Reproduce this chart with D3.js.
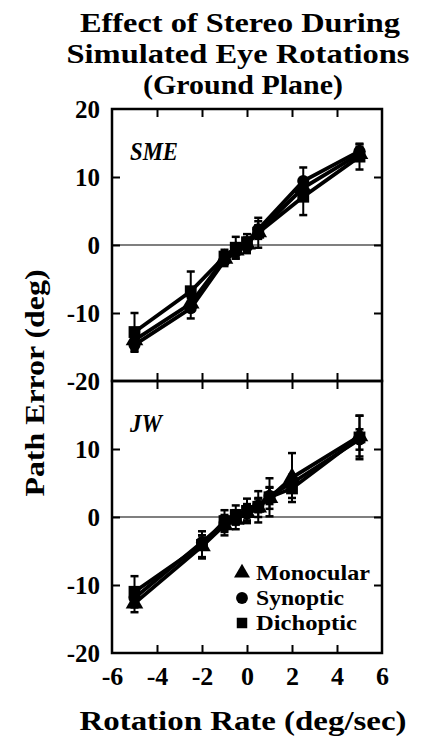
<!DOCTYPE html>
<html>
<head>
<meta charset="utf-8">
<script src="https://d3js.org/d3.v7.min.js"></script>
<style>
  body { margin: 0; background: #fff; }
  text { font-family: "Liberation Serif", "Times New Roman", serif; font-weight: bold; fill: #000; }
</style>
</head>
<body>
<svg id="chart" width="425" height="742"></svg>
<script>
// ---- data ----
var seriesNames = ["Monocular", "Synoptic", "Dichoptic"];
var seriesShapes = ["triangle", "circle", "square"];

// subject SME (top panel)
var smeRates = [-5, -2.5, -1, -0.5, 0, 0.5, 2.5, 5];
var smeMono  = [-14.0, -8.6, -2.0, -0.8, 0.1, 1.9, 8.4, 13.4];
var smeSyn   = [-14.7, -9.3, -2.3, -1.0, -0.2, 2.3, 9.4, 13.8];
var smeDich  = [-12.8, -6.8, -1.7, -0.4, 0.4, 1.8, 7.1, 13.0];
var smeMonoErr = [1.2, 1.0, 0.8, 0.9, 1.0, 1.0, 1.3, 1.0];
var smeSynErr  = [1.0, 1.5, 0.8, 1.0, 1.0, 1.2, 2.0, 1.0];
var smeDichErr = [2.8, 2.9, 1.0, 1.6, 1.2, 2.2, 2.7, 1.9];

// subject JW (bottom panel)
var jwRates = [-5, -2, -1, -0.5, 0, 0.5, 1, 2, 5];
var jwMono  = [-12.7, -4.3, -1.2, -0.4, 0.6, 1.4, 2.8, 5.8, 11.9];
var jwSyn   = [-11.9, -3.7, -0.9, -0.1, 0.5, 1.7, 3.1, 5.0, 11.4];
var jwDich  = [-11.0, -4.1, -0.6, 0.3, 0.9, 1.5, 2.9, 4.2, 11.7];
var jwMonoErr = [1.3, 1.6, 1.5, 1.4, 1.3, 1.4, 1.6, 3.6, 3.0];
var jwSynErr  = [1.0, 1.0, 1.0, 1.0, 1.0, 1.0, 1.2, 1.2, 1.5];
var jwDichErr = [2.3, 2.0, 1.6, 1.4, 1.8, 2.3, 2.8, 1.4, 3.2];

var xTickLabels = [-6, -4, -2, 0, 2, 4, 6];
var xInnerTicks = [-4, -2, 0, 2, 4];
var yInnerTicks = [-10, 0, 10];
var yLabelsTop = [20, 10, 0, -10, -20];
var yLabelsBottom = [10, 0, -10, -20];

// ---- layout ----
var svg = d3.select("#chart");
var left = 112, right = 382;
var x = d3.scaleLinear().domain([-6, 6]).range([left, right]);
var yTop = d3.scaleLinear().domain([-20, 20]).range([381, 109]);
var yBottom = d3.scaleLinear().domain([-20, 20]).range([653, 381]);

function makeSeries(rates, vals, errs) {
  var out = [];
  for (var i = 0; i < vals.length; i++) {
    out.push({ vals: vals[i].map(function(v, j) { return { x: rates[j], y: v, e: errs[i][j] }; }) });
  }
  return out;
}

var symbolType = { triangle: d3.symbolTriangle, circle: d3.symbolCircle, square: d3.symbolSquare };
var symbolSize = { triangle: 135, circle: 115, square: 140 };

function drawPanel(y, series, name, nameWidth, yLabels) {
  var g = svg.append("g");

  // zero line
  g.append("line")
    .attr("x1", left).attr("x2", right)
    .attr("y1", y(0)).attr("y2", y(0))
    .attr("stroke", "#000").attr("stroke-width", 1.2);

  // inward ticks on all four sides
  g.append("g").attr("transform", "translate(0," + y.range()[0] + ")")
    .call(d3.axisBottom(x).tickValues(xInnerTicks).tickSize(-8).tickFormat(""))
    .call(function(a) { a.select(".domain").remove(); });
  g.append("g").attr("transform", "translate(0," + y.range()[1] + ")")
    .call(d3.axisTop(x).tickValues(xInnerTicks).tickSize(-8).tickFormat(""))
    .call(function(a) { a.select(".domain").remove(); });
  g.append("g").attr("transform", "translate(" + left + ",0)")
    .call(d3.axisLeft(y).tickValues(yInnerTicks).tickSize(-8).tickFormat(""))
    .call(function(a) { a.select(".domain").remove(); });
  g.append("g").attr("transform", "translate(" + right + ",0)")
    .call(d3.axisRight(y).tickValues(yInnerTicks).tickSize(-8).tickFormat(""))
    .call(function(a) { a.select(".domain").remove(); });
  g.selectAll(".tick line").attr("stroke", "#000").attr("stroke-width", 2);

  // y tick labels
  var yl = g.append("g").attr("transform", "translate(" + left + ",0)")
    .call(d3.axisLeft(y).tickValues(yLabels).tickSize(0).tickPadding(12)
      .tickFormat(function(d) { return String(d); }));
  yl.select(".domain").remove();
  yl.selectAll("text").style("font-size", "25px").attr("dy", "0.34em");

  // box
  g.append("rect")
    .attr("x", left).attr("y", y.range()[1])
    .attr("width", right - left).attr("height", y.range()[0] - y.range()[1])
    .attr("fill", "none").attr("stroke", "#000").attr("stroke-width", 2.5);

  var line = d3.line()
    .x(function(d) { return x(d.x); })
    .y(function(d) { return y(d.y); });

  // lines
  g.selectAll(".sline").data(series).enter().append("path")
    .attr("d", function(d) { return line(d.vals); })
    .attr("fill", "none").attr("stroke", "#000").attr("stroke-width", 3.8);

  // error bars
  series.forEach(function(s) {
    var eb = g.append("g").selectAll("g").data(s.vals).enter().append("g");
    eb.append("line")
      .attr("x1", function(d) { return x(d.x); }).attr("x2", function(d) { return x(d.x); })
      .attr("y1", function(d) { return y(d.y - d.e); }).attr("y2", function(d) { return y(d.y + d.e); })
      .attr("stroke", "#000").attr("stroke-width", 2);
    [-1, 1].forEach(function(sgn) {
      eb.append("line")
        .attr("x1", function(d) { return x(d.x) - 4; }).attr("x2", function(d) { return x(d.x) + 4; })
        .attr("y1", function(d) { return y(d.y + sgn * d.e); }).attr("y2", function(d) { return y(d.y + sgn * d.e); })
        .attr("stroke", "#000").attr("stroke-width", 2.5);
    });
  });

  // markers
  series.forEach(function(s, i) {
    var shape = seriesShapes[i];
    g.append("g").selectAll("path").data(s.vals).enter().append("path")
      .attr("transform", function(d) { return "translate(" + x(d.x) + "," + y(d.y) + ")"; })
      .attr("d", d3.symbol().type(symbolType[shape]).size(symbolSize[shape]))
      .attr("fill", "#000");
  });

  // subject label
  g.append("text")
    .attr("x", 130).attr("y", y(20) + 51)
    .style("font-size", "26px").style("font-style", "italic")
    .attr("textLength", nameWidth).attr("lengthAdjust", "spacingAndGlyphs")
    .text(name);
}

var smeSeries = makeSeries(smeRates, [smeMono, smeSyn, smeDich], [smeMonoErr, smeSynErr, smeDichErr]);
var jwSeries = makeSeries(jwRates, [jwMono, jwSyn, jwDich], [jwMonoErr, jwSynErr, jwDichErr]);

drawPanel(yTop, smeSeries, "SME", 48, yLabelsTop);
drawPanel(yBottom, jwSeries, "JW", 32, yLabelsBottom);

// x tick labels
var xl = svg.append("g").attr("transform", "translate(0,653)")
  .call(d3.axisBottom(x).tickValues(xTickLabels).tickSize(0).tickPadding(14)
    .tickFormat(function(d) { return String(d); }));
xl.select(".domain").remove();
xl.selectAll("text").style("font-size", "26px");

// titles
var titles = [
  { t: "Effect of Stereo During", cx: 240, y: 32, w: 320 },
  { t: "Simulated Eye Rotations", cx: 238, y: 63, w: 343 },
  { t: "(Ground Plane)", cx: 243, y: 94, w: 200 }
];
titles.forEach(function(d) {
  svg.append("text").attr("x", d.cx).attr("y", d.y)
    .attr("text-anchor", "middle").style("font-size", "28px")
    .attr("textLength", d.w).attr("lengthAdjust", "spacingAndGlyphs")
    .text(d.t);
});

svg.append("text").attr("x", 243).attr("y", 730)
  .attr("text-anchor", "middle").style("font-size", "28px")
  .attr("textLength", 327).attr("lengthAdjust", "spacingAndGlyphs")
  .text("Rotation Rate (deg/sec)");

svg.append("text").attr("transform", "translate(44,383) rotate(-90)")
  .attr("text-anchor", "middle").style("font-size", "28px")
  .attr("textLength", 227).attr("lengthAdjust", "spacingAndGlyphs")
  .text("Path Error (deg)");

// legend
var legend = svg.append("g");
seriesNames.forEach(function(n, i) {
  var ly = 573 + i * 25;
  legend.append("path")
    .attr("transform", "translate(242," + ly + ")")
    .attr("d", d3.symbol().type(symbolType[seriesShapes[i]]).size(110))
    .attr("fill", "#000");
  legend.append("text").attr("x", 256).attr("y", ly + 7)
    .style("font-size", "21px")
    .attr("textLength", [114, 88, 101][i]).attr("lengthAdjust", "spacingAndGlyphs")
    .text(n);
});
</script>
</body>
</html>
